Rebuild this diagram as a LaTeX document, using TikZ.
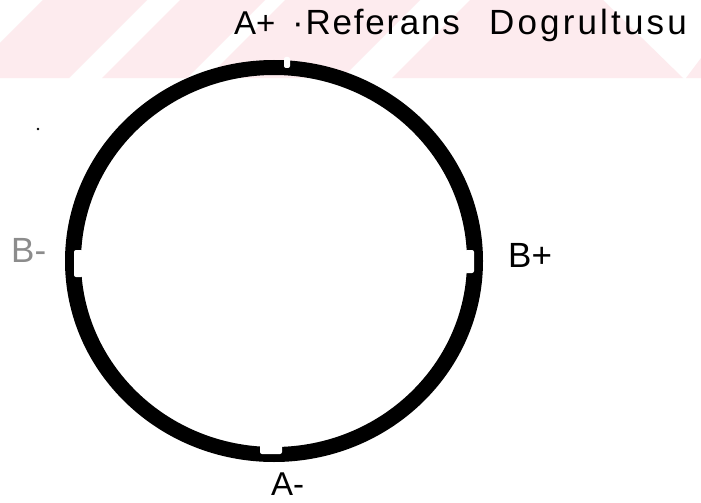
\documentclass[tikz,border=0pt]{standalone}
\usepackage{fontspec}
\setmainfont{Liberation Sans}
\definecolor{wm}{HTML}{FDEBEE}
\begin{document}
\begin{tikzpicture}[x=1pt,y=-1pt,
  lbl/.style={inner sep=0pt, anchor=base west, font=\fontsize{35}{42}\selectfont},
  notch/.style={fill=white, draw=none, rounded corners=2pt},
  ring/.style={fill=black, even odd rule}]
\useasboundingbox (0,0) rectangle (701,503);
\fill[white] (0,0) rectangle (701,503);
% watermark stripes
\fill[wm] (43,0) -- (147,0) -- (69,78) -- (0,78) -- (0,43) -- cycle;
\fill[wm] (180,0) -- (265,0) -- (187,78) -- (102,78) -- cycle;
\fill[wm] (285,0) -- (420,0) -- (342,78) -- (207,78) -- cycle;
\fill[wm] (470,0) -- (603,0) -- (683,78) -- (392,78) -- cycle;
\fill[wm] (701,58) -- (701,78) -- (686,78) -- cycle;
% ring
\coordinate (c) at (274,261);
\fill[ring] (c) ellipse [x radius=209, y radius=201]
            (c) ellipse [x radius=193, y radius=186];
% notches
\fill[notch] (465,250) rectangle (474,273);
\fill[notch] (74,250) rectangle (83,277);
\fill[notch] (260,444) rectangle (282,454);
\fill[notch] (284,57) rectangle (290,68);
% speck
\fill (38,129) circle [radius=1.3];
% labels
\node[lbl, font=\fontsize{33}{40}\selectfont] (aplus) at (234,35) {A+};
\node[lbl] (ref) at (292,35) {\addfontfeature{LetterSpace=5}·Referans};
\node[lbl] (dog) at (489,35) {\addfontfeature{LetterSpace=9}Dogrultusu};
\node[lbl] (bplus) at (508,267) {B+};
\node[lbl, font=\fontsize{33}{40}\selectfont] (aminus) at (271,495) {A-};
\node[lbl, text=black!45] (bminus) at (11,262) {B-};
\end{tikzpicture}
\end{document}
